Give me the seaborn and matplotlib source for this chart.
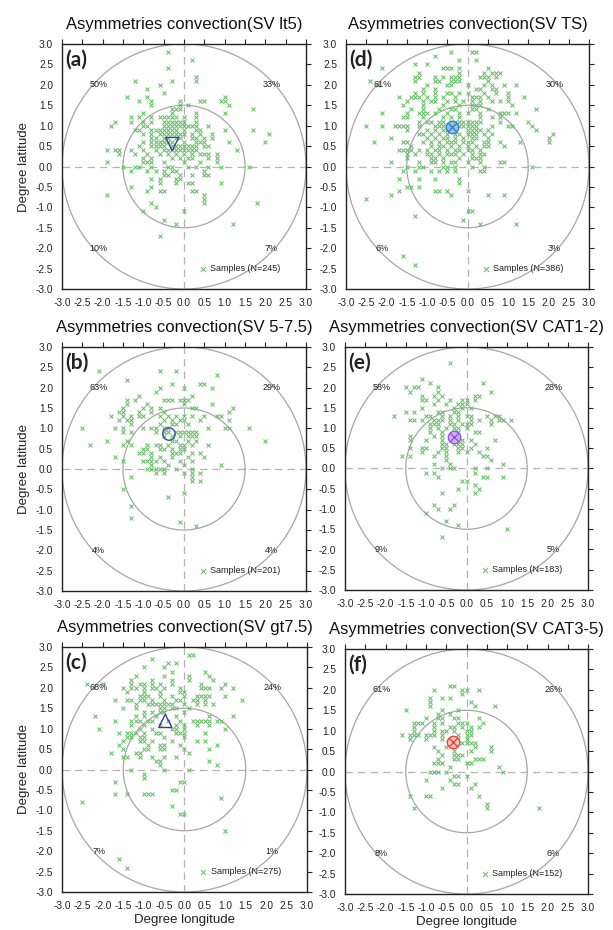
"""Six panels of convection asymmetry positions relative to the storm centre."""
import matplotlib

matplotlib.use("Agg")
import matplotlib.pyplot as plt
import numpy as np
import seaborn as sns

# Samples: latitude row -> longitudes that have a sample on that row.
ROWS_A = {
    2.8: [-0.4], 2.6: [0.2], 2.4: [-0.4], 2.2: [0.3], 2.1: [-1.2, -0.3, 0.3], 2.0: [-0.6],
    1.9: [-0.9], 1.8: [-0.5], 1.7: [-1.4, -0.9, 1.0],
    1.6: [-1.1, -0.8, -0.1, 0.4, 0.5, 0.9, 1.0], 1.5: [-0.8, -0.1, 0.1, 1.1],
    1.4: [-0.3, -0.2, -0.1, 1.7], 1.3: [-1.0, -0.3, 0.3, 1.0],
    1.2: [-1.3, -1.1, -0.8, -0.6, -0.5, -0.4, -0.3, -0.2, 0.0, 0.3],
    1.1: [-1.7, -1.3, -1.0, -0.8, -0.5, -0.4, -0.3, -0.2, -0.1, 0.0, 0.3],
    1.0: [-1.8, -1.0, -0.9, -0.5, -0.4, -0.3, -0.2, -0.1, 0.0, 0.1, 0.2, 0.3, 0.6],
    0.9: [-1.2, -1.1, -0.8, -0.7, -0.6, -0.5, -0.4, -0.3, -0.2, 0.0, 0.3, 0.4, 1.0, 1.7],
    0.8: [-1.0, -0.8, -0.6, -0.5, -0.4, -0.3, -0.2, -0.1, 0.0, 0.2, 0.4, 0.7, 2.1],
    0.7: [-0.8, -0.7, -0.5, -0.4, -0.2, -0.1, 0.2, 0.3, 0.5, 0.7],
    0.6: [-1.0, -0.8, -0.7, -0.6, -0.5, -0.4, -0.3, 0.0, 0.3, 0.4, 0.5, 1.1, 2.0],
    0.5: [-1.1, -0.8, -0.7, -0.6, -0.5, -0.3, -0.2, -0.1, 0.0, 0.1, 0.2, 0.3, 0.5, 0.6],
    0.4: [-1.9, -1.7, -1.6, -1.3, -1.0, -0.7, -0.5, -0.4, -0.3, -0.2, -0.1, 0.0, 0.1, 0.2, 0.3, 1.3],
    0.3: [-1.6, -1.2, -0.9, -0.6, -0.4, -0.2, 0.0, 0.2, 0.4, 0.5, 0.6, 0.8],
    0.2: [-1.0, -0.8, -0.3, -0.1, 0.1, 0.2, 0.6, 0.8],
    0.1: [-1.9, -1.0, -0.9, -0.8, -0.5, 0.0, 0.4, 0.8],
    0.0: [-1.5, -1.2, -1.1, -0.8, -0.4, -0.3, 0.1, 0.3, 0.6, 0.9, 1.6],
    -0.1: [-1.3, -0.9, -0.7, -0.5, -0.3, -0.2, 0.5],
    -0.2: [-0.5, -0.4, -0.1, 0.2, 0.5, 0.6], -0.3: [-0.8, -0.6, -0.2, -0.1],
    -0.4: [-0.6, -0.2, 0.1, 0.2, 0.9], -0.5: [-1.3, -0.8],
    -0.6: [-0.9, -0.6, -0.5, 0.2, 0.3], -0.7: [-1.9, 0.5], -0.8: [0.5],
    -0.9: [-0.8, 0.5, 1.8], -1.0: [-0.7], -1.1: [-1.0, 0.0], -1.3: [-0.5],
    -1.4: [-0.2, 1.2], -1.7: [-0.6],
}

ROWS_D = {
    2.8: [-0.4, 0.1, 0.2], 2.7: [-0.8], 2.6: [-0.2, 0.2], 2.5: [-1.3, -1.0],
    2.4: [-2.1, -0.6, -0.5, -0.4, -0.2, 0.5], 2.3: [-1.2, -0.2, 0.4, 0.6, 0.7, 0.8],
    2.2: [-1.3, -1.2, -0.8, -0.6, -0.4, -0.3, -0.2, 0.3, 0.4, 0.5, 0.7],
    2.1: [-2.4, -1.3, -0.8, -0.7, -0.4, -0.3, -0.2, 0.5],
    2.0: [-2.2, -1.0, -0.5, -0.4, 0.0, 0.4, 0.6, 0.9, 1.2],
    1.9: [-1.1, -0.8, 0.2, 0.3, 0.6, 0.7],
    1.8: [-1.3, -1.1, -0.8, -0.5, -0.4, -0.2, 0.0, 0.4, 0.7, 1.0],
    1.7: [-1.7, -1.4, -1.3, -1.2, -1.0, -0.8, -0.6, -0.3, 0.1, 0.2, 0.3, 0.5, 1.0, 1.4],
    1.6: [-1.5, -1.1, -0.9, -0.8, -0.5, -0.3, -0.1, 0.1, 0.3, 0.6, 0.8, 1.0],
    1.5: [-1.6, -1.1, -0.6, -0.2, 0.1, 0.2, 0.3, 1.1],
    1.4: [-1.4, -1.1, -0.7, -0.4, -0.3, 0.1, 0.2, 0.5, 1.7],
    1.3: [-2.1, -1.5, -1.2, -1.1, -1.0, -0.8, -0.5, -0.2, 0.0, 0.3, 0.8, 0.9, 1.0, 1.2],
    1.2: [-1.6, -1.5, -1.1, -0.6, -0.4, -0.2, 0.3, 0.6, 0.8],
    1.1: [-1.2, -1.0, -0.9, -0.7, -0.6, -0.4, -0.3, -0.2, -0.1, 0.0, 0.1, 0.2, 0.3, 0.8, 1.5],
    1.0: [-2.5, -2.1, -1.8, -1.7, -1.6, -1.5, -1.2, -0.8, -0.7, -0.6, -0.5, -0.3, -0.2,
          -0.1, 0.0, 0.1, 0.2, 0.6, 1.0, 1.1, 1.6],
    0.9: [-1.5, -1.0, -0.8, -0.6, -0.5, -0.4, -0.3, 0.0, 0.1, 0.2, 0.3, 0.5, 1.7],
    0.8: [-1.2, -1.1, -0.9, -0.7, -0.5, -0.3, -0.2, 0.0, 0.1, 0.2, 0.4, 0.6, 2.1],
    0.7: [-1.9, -1.0, -0.8, -0.6, -0.5, -0.3, -0.1, 0.1, 0.2, 0.5, 2.0],
    0.6: [-2.3, -1.6, -1.5, -1.1, -0.9, -0.7, -0.5, -0.4, -0.3, -0.1, 0.0, 0.1, 0.4, 0.5,
          0.8, 1.3, 2.0],
    0.5: [-1.4, -0.9, -0.7, -0.6, -0.4, -0.2, 0.0, 0.2, 0.4, 0.5, 0.9],
    0.4: [-1.7, -1.6, -1.5, -1.4, -1.2, -1.0, -0.8, -0.7, -0.5, -0.3, -0.2, 0.0, 0.1, 0.3],
    0.3: [-1.5, -1.3, -1.0, -0.9, -0.7, -0.5, -0.4, -0.3, -0.1, 0.1, 0.3, 0.4],
    0.2: [-1.5, -0.9, -0.8, -0.6, -0.2, 0.1, 0.2, 0.3],
    0.1: [-1.9, -1.2, -0.9, -0.8, -0.6, -0.4, -0.3, 0.0, 0.3, 0.8, 0.9],
    0.0: [-1.5, -1.2, -1.1, -0.6, -0.5, -0.3, 0.1, 0.4, 1.6],
    -0.1: [-1.6, -1.3, -0.9, -0.7, -0.5, -0.3, 0.3, 0.4],
    -0.3: [-1.7, -1.2, -0.8, -0.2], -0.4: [-0.2], -0.5: [-1.5, -1.4, -1.2],
    -0.6: [-1.7, -0.8, -0.7, -0.5, 0.0], -0.7: [-1.9, -0.4, 0.5, 0.9], -0.8: [-2.5],
    -1.1: [0.0, 0.1], -1.2: [-1.3], -1.3: [-0.1], -1.4: [0.3, 1.2], -2.2: [-1.6], -2.4: [-1.3],
}

ROWS_B = {
    2.4: [-2.1, -0.6, -0.2], 2.3: [0.8], 2.2: [-1.4], 2.1: [-0.3, 0.4, 0.5],
    2.0: [-0.6, 0.0, 0.7], 1.9: [-0.7], 1.8: [-1.1, 0.2],
    1.7: [-1.4, -1.2, -0.5, -0.4, -0.3, -0.1, 0.0, 0.1], 1.6: [-1.4, -0.9, 0.0, 0.7],
    1.5: [-1.5, -1.0, -0.8, -0.6, 0.2, 0.3, 1.2], 1.4: [-1.6, -1.5, -1.1, -0.8, -0.5, 1.1],
    1.3: [-1.8, -1.5, -1.3, -1.1, -1.0, -0.6, -0.4, -0.2, 0.0, 0.2, 0.5, 0.8, 0.9],
    1.2: [-1.6, -1.4, -1.3, -0.5, -0.3, -0.1, 0.0, 0.4, 1.1],
    1.1: [-1.3, -0.6, -0.3, -0.2, 0.1],
    1.0: [-2.5, -1.7, -1.5, -1.0, -0.8, -0.7, -0.5, -0.4, 0.6, 1.0, 1.1, 1.6],
    0.9: [-1.5, -1.3, -0.7, -0.5, -0.4, -0.2, -0.1, 0.0, 0.1, 0.2, 0.3],
    0.8: [-0.5, -0.3, -0.1, 0.1, 0.2, 0.3],
    0.7: [-1.9, -1.4, -0.3, -0.2, 0.1, 0.3, 2.0],
    0.6: [-2.3, -1.5, -1.3, -0.9, -0.7, -0.6, -0.4, -0.1, 0.0, 0.2, 0.6],
    0.5: [-1.0, -0.9, -0.6, -0.5, -0.3, -0.1, 0.0],
    0.4: [-1.1, -1.0, -0.8, -0.3, -0.2, -0.1, 0.2, 0.4],
    0.3: [-1.7, -0.8, -0.6, -0.3, 0.1, 0.5],
    0.2: [-1.5, -1.0, -0.9, -0.8, -0.7, -0.5, -0.1, 0.2],
    0.1: [-0.8, -0.4, 0.0, 0.9], 0.0: [-0.9, -0.8, -0.7, -0.6, -0.5, -0.2, 0.2],
    -0.1: [-0.7, -0.5, 0.0, 0.2, 0.4], -0.2: [-1.3, 0.2], -0.3: [0.2, 0.4],
    -0.5: [-1.5], -0.6: [0.0], -0.7: [-0.4], -0.9: [-1.3], -1.2: [-1.3], -1.3: [-0.1],
    -1.4: [0.3],
}

ROWS_E = {
    2.6: [-0.4], 2.2: [-1.1], 2.1: [-0.9, 0.4], 2.0: [-1.5, -1.3, -1.2, -0.7],
    1.9: [-1.4, -0.7, 0.6], 1.8: [-1.1, -0.8, -0.6, 0.2, 0.3],
    1.7: [-1.1, -1.0, -0.7, -0.4, -0.1, 0.0, 0.2], 1.6: [-0.8, -0.5, -0.2, -0.1, 0.0],
    1.5: [-1.1, -0.3, -0.1, 0.1], 1.4: [-1.5, -1.3, -0.7, -0.6, -0.3, -0.2],
    1.3: [-1.8, -1.0, -0.9, -0.6, -0.4, -0.2, 0.0, 0.1, 0.5, 0.7, 0.8],
    1.2: [-1.4, -1.3, -1.1, -0.8, -0.7, -0.6, -0.4, -0.2, 0.1, 0.3, 0.6, 0.8, 0.9, 1.1],
    1.1: [-0.9, -0.8, -0.7, -0.4, -0.3, -0.1, 0.0, 0.1, 0.6],
    1.0: [-0.9, -0.7, -0.5, -0.3, -0.2, 0.0], 0.9: [-0.9, -0.6, -0.3, -0.2, 0.2, 0.3],
    0.8: [-1.4, -0.8, -0.6], 0.7: [-1.4, -1.0, -0.6, -0.1, 0.1, 0.7],
    0.6: [-0.6, -0.5, -0.3, -0.2, -0.1, 0.2],
    0.5: [-1.4, -1.1, -1.0, -0.6, -0.5, -0.2, -0.1, 0.1, 0.5],
    0.4: [-1.1, -0.7, -0.5, -0.2, 0.0, 0.3], 0.3: [-1.6, -1.4, -0.8, -0.5, 0.4, 0.5],
    0.2: [-0.5, 0.6], 0.1: [-0.8, -0.4, 0.9], 0.0: [-0.6, -0.4, -0.3, 0.2, 0.5],
    -0.1: [-1.0, -0.8, 0.2], -0.2: [-0.7, 0.4, 0.5, 0.9], -0.3: [-0.1, 0.0],
    -0.4: [0.2], -0.5: [-0.2, 0.3], -0.6: [-0.6, 0.2], -0.9: [-0.8, -0.3],
    -1.0: [-0.7, -0.4], -1.1: [-1.0], -1.3: [-0.5], -1.4: [-0.2], -1.5: [1.0], -1.7: [-0.6],
}

ROWS_C = {
    2.8: [0.1, 0.2], 2.7: [-0.8], 2.6: [-0.4, -0.2], 2.5: [-1.0, -0.5], 2.4: [-0.3, 0.5],
    2.3: [-1.2, -0.5, 0.1, 0.6], 2.2: [-1.3, -0.8, -0.3, 0.1, 0.7],
    2.1: [-2.4, -2.0, -1.3, -1.1, -1.0, -0.8, -0.6, -0.3, 0.4, 1.0],
    2.0: [-1.5, -1.3, -1.2, -1.0, -0.8, -0.7, -0.5, -0.1, 0.4, 0.5, 0.6, 0.9, 1.2],
    1.9: [-1.4, -1.0, -0.6, -0.1, 0.0],
    1.8: [-1.1, -1.0, -0.9, -0.6, -0.3, 0.0, 0.3, 0.4, 0.5, 0.6, 1.0],
    1.7: [-1.7, -1.4, -1.3, -1.1, -1.0, -0.8, -0.5, -0.2, -0.1, 0.2, 0.3, 0.5, 1.4],
    1.6: [-1.2, -0.9, -0.8, -0.7, -0.6, -0.5, -0.4, -0.3, 0.0, 0.3, 0.5, 0.7],
    1.5: [-1.5, -1.2, -0.6, -0.5, -0.3, -0.2, 0.1], 1.4: [-1.0, -0.8, -0.6, -0.5, 0.0],
    1.3: [-2.2, -1.2, -1.0, -0.7, -0.2, 0.6, 1.2],
    1.2: [-1.7, -1.3, -1.2, -1.1, -0.9, -0.8, -0.4, -0.1, 0.2, 0.3, 0.4, 0.5, 0.6, 0.8, 0.9],
    1.1: [-1.3, -1.0, -0.6, -0.2, 0.0, 0.3, 0.6],
    1.0: [-2.1, -1.1, -0.8, -0.3, -0.2, 0.0, 1.0],
    0.9: [-1.6, -1.4, -1.3, -1.2, -1.0, -0.7, -0.6, -0.2, -0.1, 0.0, 0.5],
    0.8: [-1.4, -1.3, -1.1, -1.0, -0.5, 0.0], 0.7: [-1.5, -1.1, -1.0, -0.8, -0.3, 0.3, 0.5],
    0.6: [-1.6, -0.9, -0.6, -0.5, -0.1, 0.8], 0.5: [-1.5, -1.0, -0.9, -0.6, -0.5, 0.0, 0.6],
    0.4: [-1.8, -1.2, -1.1, 0.1], 0.3: [-1.5, -1.4, -1.1, -0.8, -0.5, -0.2],
    0.2: [-0.7, -0.6, 0.6], 0.1: [-0.6, 0.8], 0.0: [-1.3, -0.5, 0.1],
    -0.1: [-1.0], -0.2: [-1.0], -0.3: [-1.7, -0.1, 0.0], -0.5: [-0.3, -0.2],
    -0.6: [-1.7, -1.4, -1.0, -0.9, -0.8], -0.7: [0.9], -0.8: [-2.5], -0.9: [-0.3],
    -1.1: [-0.1, 0.0], -1.5: [1.0], -2.2: [-1.6], -2.4: [-1.4],
}

ROWS_F = {
    2.1: [-0.4, -0.3], 2.0: [-0.8, -0.1, 0.0, 0.3], 1.9: [-0.1], 1.8: [-0.9, -0.6, -0.4],
    1.7: [-0.9, 0.1], 1.6: [-0.9, 0.2, 0.7], 1.5: [-1.5, -0.6, -0.2], 1.4: [-0.7, -0.4],
    1.3: [-1.0, -0.7, -0.6, -0.3, -0.2, 0.3],
    1.2: [-1.3, -1.2, -1.1, -0.8, -0.6, -0.2, -0.1, 0.0, 0.4],
    1.1: [-1.3, -0.8, -0.4, -0.3, -0.1, 0.1, 0.3],
    1.0: [-1.3, -0.8, -0.6, -0.5, -0.3, 0.0, 0.1],
    0.9: [-1.6, -1.4, -1.3, -1.2, -1.0, -0.9, -0.8, -0.6, -0.2, 0.0, 0.1],
    0.8: [-1.4, -1.0, -0.6, -0.2, 0.0], 0.7: [-0.4, -0.2, -0.1, 0.0, 0.1, 0.2],
    0.6: [-0.8, -0.5, 0.2, 0.6], 0.5: [-0.7, -0.3, 0.1, 0.6], 0.4: [-0.6, -0.3, -0.2, -0.1],
    0.3: [-0.7, -0.3, -0.2, 0.2, 0.3, 0.4], 0.2: [-0.8, -0.7, -0.6, 0.0, 0.1],
    0.1: [-0.4, 0.8], 0.0: [-0.9, -0.8, -0.7, -0.5, 0.9], -0.1: [-0.3, -0.2, 0.0],
    -0.2: [-1.0, -0.4], -0.3: [-0.3, -0.2, 0.2], -0.4: [-0.6, 0.1],
    -0.6: [-1.4, -1.0, -0.9, 0.3], -0.8: [0.5], -0.9: [-1.3, 0.5, 1.8],
}

PANEL_ROWS = {"a": ROWS_A, "b": ROWS_B, "c": ROWS_C, "d": ROWS_D, "e": ROWS_E, "f": ROWS_F}
TITLES = {"a": "SV lt5", "b": "SV 5-7.5", "c": "SV gt7.5", "d": "SV TS", "e": "SV CAT1-2", "f": "SV CAT3-5"}
N_SAMPLES = {"a": 245, "b": 201, "c": 275, "d": 386, "e": 183, "f": 152}
# quadrant shares: NW, NE, SW, SE
QUADRANTS = {
    "a": ["50%", "33%", "10%", "7%"], "b": ["63%", "29%", "4%", "4%"],
    "c": ["68%", "24%", "7%", "1%"], "d": ["61%", "30%", "6%", "3%"],
    "e": ["58%", "28%", "9%", "5%"], "f": ["61%", "26%", "8%", "6%"],
}
MEAN_LON = {"a": -0.29, "b": -0.37, "c": -0.47, "d": -0.39, "e": -0.31, "f": -0.33}
MEAN_LAT = {"a": 0.55, "b": 0.86, "c": 1.19, "d": 0.97, "e": 0.79, "f": 0.73}

# marker, face, edge, crossed
MEAN_STYLE = {
    "a": ("v", "none", "#3c3c9c", False), "b": ("o", "none", "#3c4cb4", False),
    "c": ("^", "none", "#34409a", False), "d": ("o", "#8cc2ec", "#3a7fc8", True),
    "e": ("o", "#cdb6f6", "#9650e6", True), "f": ("o", "#f8c6c2", "#e6443c", True),
}

GREEN = "#66bd66"
W, H = 613, 930
# left, top, width, height in pixels
BOXES = {
    "a": (62, 44, 244, 245), "d": (346, 44, 243, 245),
    "b": (62, 347, 244, 244), "e": (345, 347, 243, 243),
    "c": (62, 647, 245, 245), "f": (345, 649, 243, 245),
}


def expand(rows):
    lon = [x for y, xs in rows.items() for x in xs]
    lat = [y for y, xs in rows.items() for _ in xs]
    return np.array(lon), np.array(lat)


def draw_panel(fig, key):
    l, t, w, h = BOXES[key]
    ax = fig.add_axes([l / W, 1 - (t + h) / H, w / W, h / H])
    ax.set_xlim(-3, 3)
    ax.set_ylim(-3, 3)

    th = np.linspace(0, 2 * np.pi, 361)
    for r in (1.5, 3.0):
        ax.plot(r * np.cos(th), r * np.sin(th), color="#a6a6a6", lw=0.9, zorder=1)
    ax.axhline(0, color="#b4b4b4", lw=0.9, ls=(0, (6, 4)), zorder=1)
    ax.axvline(0, color="#b4b4b4", lw=0.9, ls=(0, (6, 4)), zorder=1)

    lon, lat = expand(PANEL_ROWS[key])
    sns.scatterplot(x=lon, y=lat, marker="x", s=8, color=GREEN, linewidth=0.75,
                    ax=ax, label=f"Samples (N={N_SAMPLES[key]})", zorder=3)

    marker, face, edge, crossed = MEAN_STYLE[key]
    size = 80 if marker == "o" else 90
    ax.scatter(MEAN_LON[key], MEAN_LAT[key], marker=marker, s=size, facecolors=face,
               edgecolors=edge, linewidths=1.0, zorder=5)
    if crossed:
        ax.scatter(MEAN_LON[key], MEAN_LAT[key], marker="x", s=size * 0.45, color=edge,
                   linewidths=1.0, zorder=6)

    nw, ne, sw, se = QUADRANTS[key]
    for x, y, s in ((-2.1, 2.0, nw), (2.15, 2.0, ne), (-2.1, -2.0, sw), (2.15, -2.0, se)):
        ax.text(x, y, s, ha="center", va="center", fontsize=6.5, color="#222222")

    ax.legend(loc="center left", bbox_to_anchor=(0.562, 0.083), frameon=False, fontsize=6.5,
              handlelength=0.8, handletextpad=0.4, borderpad=0, borderaxespad=0,
              markerscale=1.3)

    ticks = np.arange(-3, 3.01, 0.5)
    ax.set_xticks(ticks)
    ax.set_yticks(ticks)
    ax.set_xticklabels([f"{v:.1f}" for v in ticks])
    ax.set_yticklabels([f"{v:.1f}" for v in ticks])
    ax.tick_params(direction="out", length=3.5, width=0.8, top=True, right=True,
                   labelsize=7.3, pad=3, colors="#222222")
    for sp in ax.spines.values():
        sp.set_linewidth(1.0)
        sp.set_color("#222222")

    ax.set_title(f"Asymmetries convection({TITLES[key]})", fontsize=12, pad=11, color="#111111")
    ax.text(0.012, 0.975, f"({key})", transform=ax.transAxes, ha="left", va="top",
            fontsize=15, fontweight="bold", family=["Lato", "DejaVu Sans"], zorder=7)

    if key in ("a", "b", "c"):
        ax.set_ylabel("Degree latitude", fontsize=9.5, labelpad=4)
    if key in ("c", "f"):
        ax.set_xlabel("Degree longitude", fontsize=9.5, labelpad=2)
    return ax


def main():
    sns.set_theme(style="white")
    plt.rcParams.update({
        "font.family": ["Liberation Sans", "DejaVu Sans"],
        "axes.unicode_minus": False,
        "text.color": "#222222",
        "axes.labelcolor": "#222222",
    })
    fig = plt.figure(figsize=(W / 100, H / 100), dpi=100)
    for key in ("a", "d", "b", "e", "c", "f"):
        draw_panel(fig, key)
    fig.savefig("out.png", dpi=100, facecolor="white")
    plt.close(fig)


if __name__ == "__main__":
    main()
